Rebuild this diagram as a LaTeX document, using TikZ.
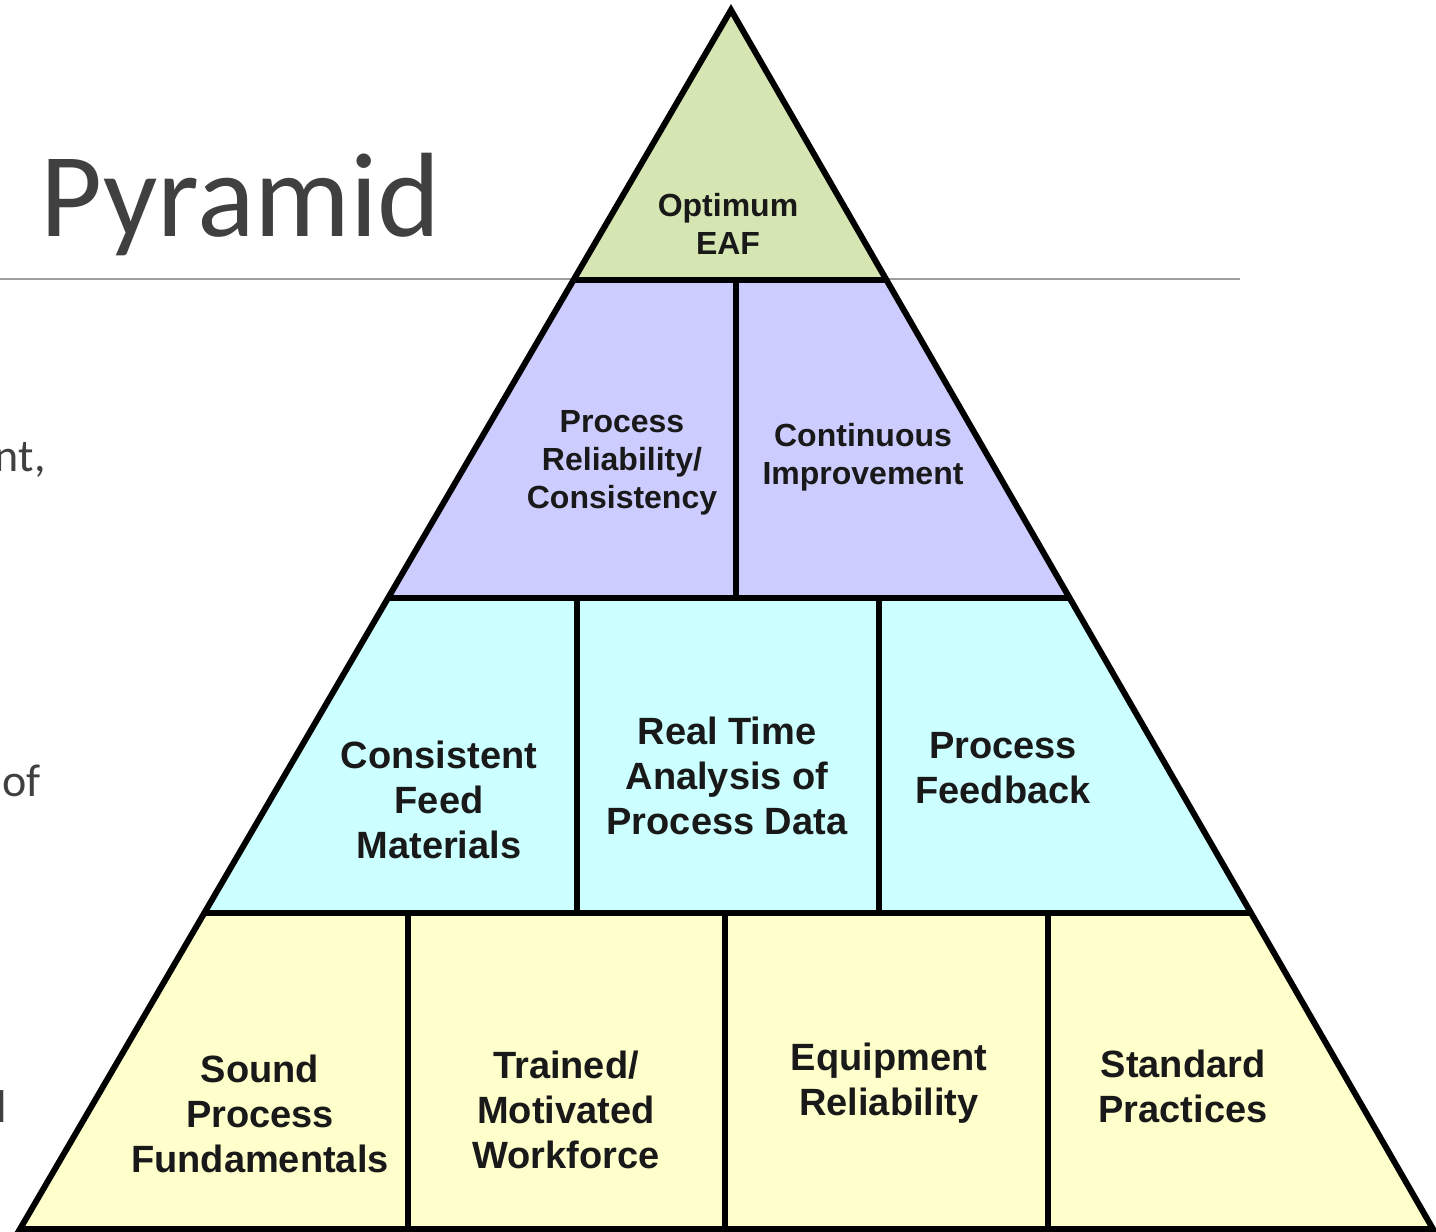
\documentclass[tikz,border=0pt]{standalone}
\usepackage{fontspec}
\setmainfont{Liberation Sans}
\newfontfamily\slidefont{Carlito}
\definecolor{topgreen}{RGB}{214,230,178}
\definecolor{tierpurple}{RGB}{204,204,255}
\definecolor{tiercyan}{RGB}{204,255,255}
\definecolor{tieryellow}{RGB}{255,255,204}
\definecolor{slidegray}{RGB}{64,64,64}
\begin{document}
\begin{tikzpicture}[x=0.5pt,y=-0.5pt,
  outline/.style={draw=black,line width=3pt},
  bigtext/.style={inner sep=0pt,align=center,text=black!90,font=\bfseries\fontsize{19pt}{22.5pt}\selectfont},
  smalltext/.style={inner sep=0pt,align=center,text=black!90,font=\bfseries\fontsize{16pt}{19pt}\selectfont},
  slidetext/.style={inner sep=0pt,text=slidegray,font=\slidefont\fontsize{23pt}{27pt}\selectfont}]
\useasboundingbox (0,0) rectangle (1436,1232);
\clip (0,0) rectangle (1436,1232);
% slide behind the pyramid
\node[inner sep=0pt,anchor=base west,text=slidegray,font=\slidefont\fontsize{60pt}{70pt}\selectfont] (title) at (40,236) {Pyramid};
\draw[draw=black!38,line width=0.8pt] (0,279) -- (1240,279);
\node[slidetext,anchor=base east] (frag1) at (46,471) {nt,};
\node[slidetext,anchor=base east] (frag2) at (41,796) {of};
\node[slidetext,anchor=base east] (frag3) at (7,1122) {l};
% tiers
\fill[topgreen] (731,10) -- (886.5,280) -- (573.5,280) -- cycle;
\fill[tierpurple] (573.5,280) -- (886.5,280) -- (1069.7,598) -- (388,598) -- cycle;
\fill[tiercyan] (388,598) -- (1069.7,598) -- (1251,913) -- (204.5,913) -- cycle;
\fill[tieryellow] (204.5,913) -- (1251,913) -- (1433,1229) -- (20,1229) -- cycle;
\draw[outline] (731,10) -- (1433,1229) -- (20,1229) -- cycle;
\draw[outline] (573.5,280) -- (886.5,280);
\draw[outline] (388,598) -- (1069.7,598);
\draw[outline] (204.5,913) -- (1251,913);
\draw[outline] (736,280) -- (736,598);
\draw[outline] (577,598) -- (577,913);
\draw[outline] (879,598) -- (879,913);
\draw[outline] (408,913) -- (408,1229);
\draw[outline] (725,913) -- (725,1229);
\draw[outline] (1048,913) -- (1048,1229);
% labels
\node[smalltext] (eaf) at (728,224) {Optimum\\EAF};
\node[smalltext] (reliab) at (622,463) {Process\\Reliability/\\Consistency};
\node[smalltext] (improve) at (863,457) {Continuous\\Improvement};
\node[bigtext] (feed) at (439,800) {Consistent\\Feed\\Materials};
\node[bigtext] (analysis) at (727,776) {Real Time\\Analysis of\\Process Data};
\node[bigtext] (feedback) at (1003,768) {Process\\Feedback};
\node[bigtext] (sound) at (260,1114) {Sound\\Process\\Fundamentals};
\node[bigtext] (workforce) at (566,1110) {Trained/\\Motivated\\Workforce};
\node[bigtext] (equip) at (889,1083) {Equipment\\Reliability};
\node[bigtext] (practices) at (1183,1086) {Standard\\Practices};
\end{tikzpicture}
\end{document}
